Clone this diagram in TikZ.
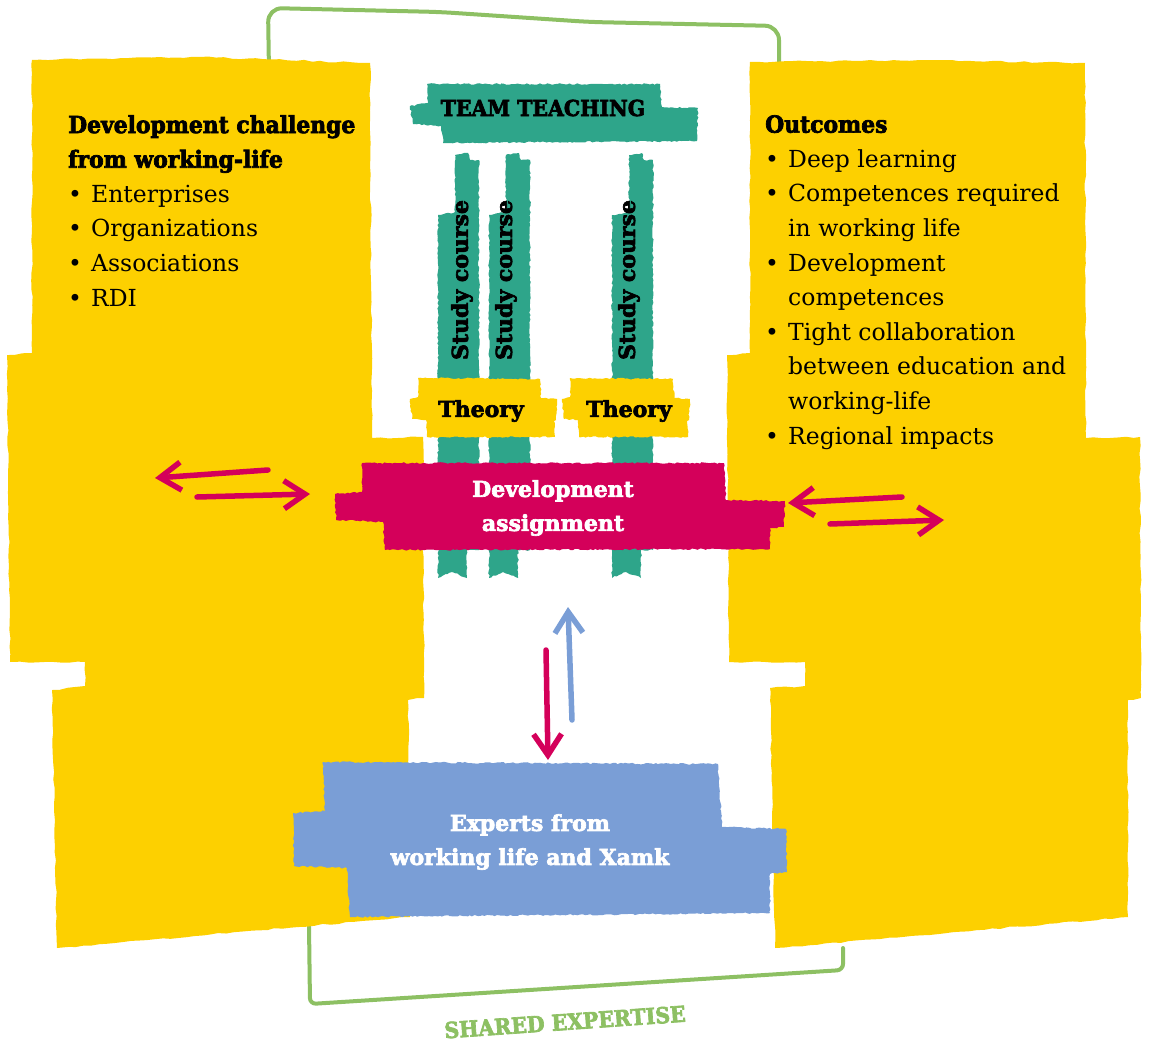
\documentclass[tikz,border=0pt]{standalone}
\usepackage{fontspec}
\setmainfont{DejaVu Serif}[BoldFeatures={FakeBold=3}]
\newfontfamily\narrowslab{DejaVu Serif}[FakeStretch=0.93, BoldFeatures={FakeBold=3}]
\usetikzlibrary{arrows.meta,positioning,decorations.pathmorphing}

\definecolor{paneyellow}{RGB}{253,208,0}
\definecolor{teamgreen}{RGB}{46,165,138}
\definecolor{taskpink}{RGB}{212,0,90}
\definecolor{expertblue}{RGB}{122,158,214}
\definecolor{framegreen}{RGB}{141,192,99}

\newcommand\bul{\makebox[23pt][l]{\textbullet}}
\newcommand\cont{\hspace*{23pt}}
\newcommand\headline[1]{{\narrowslab\bfseries #1}}

\tikzset{
  panel/.style={fill=paneyellow, decorate, decoration={random steps, segment length=8pt, amplitude=0.8pt}},
  brush/.style={decorate, decoration={random steps, segment length=2.5pt, amplitude=0.8pt}},
  paneltext/.style={anchor=north west, inner sep=0pt, align=left, font=\fontsize{23.5}{34.6}\selectfont},
  tag/.style={inner sep=0pt, align=center, font=\bfseries\fontsize{22}{34}\selectfont},
  narrowtag/.style={tag, font=\narrowslab\bfseries\fontsize{22}{34}\selectfont},
  coursetext/.style={tag, rotate=90},
  frameline/.style={draw=framegreen, line width=4pt, line cap=round, line join=round},
  xchg/.style={draw=taskpink, line width=5.5pt, line cap=round, line join=round,
    -{Straight Barb[length=21pt,width=28pt]}}
}

\begin{document}
\begin{tikzpicture}[x=1pt, y=-1pt]
  \useasboundingbox (0,0) rectangle (1149,1043);
  \pgfmathsetseed{7}

  % shared expertise frame
  \coordinate (frameTL) at (269,72);
  \coordinate (frameTR) at (779,62);
  \coordinate (frameBL) at (309,925);
  \coordinate (frameBR) at (843,948);
  \draw[frameline, rounded corners=14pt] (frameTL) -- (268,8) -- (440,12) -- (590,22) -- (779,26) -- (frameTR);
  \draw[frameline, rounded corners=6pt] (frameBL) -- (310,1004) -- (843,970) -- (frameBR);

  % yellow panels
  \fill[panel] (32,60) -- (200,57) -- (370,63) -- (372,438) -- (423,437) -- (424,698) -- (408,700)
    -- (410,917) -- (57,948) -- (52,690) -- (85,686) -- (85,662) -- (10,662) -- (7,355) -- (32,353) -- cycle;
  \fill[panel] (750,62) -- (920,60) -- (1085,63) -- (1086,438) -- (1140,437) -- (1141,698) -- (1128,700)
    -- (1128,917) -- (775,948) -- (770,688) -- (805,686) -- (805,662) -- (729,662) -- (727,355) -- (750,353) -- cycle;

  % study courses
  \foreach \x/\t [count=\i] in {438/24, 489/17, 612/17} {
    \fill[teamgreen, brush] (\x,215) -- (\x+17,212) -- (\x+17,155) -- (\x+30,153) -- (\x+32,160) -- (\x+41,160)
      -- (\x+41,550) -- (\x+29,550) -- (\x+29,578) -- (\x+14,572) -- (\x,578) -- cycle;
    \node[coursetext] (course\i) at (\x+\t,280) {Study course};
  }

  % theory
  \foreach \x/\w in {410/147, 562/128} {
    \fill[paneyellow, brush] (\x+8,378) -- (\x+\w-17,379) -- (\x+\w-16,398) -- (\x+\w,399) -- (\x+\w-1,420)
      -- (\x+\w-3,421) -- (\x+\w-2,437) -- (\x+17,437) -- (\x+16,420) -- (\x+2,419) -- (\x,399) -- (\x+8,397) -- cycle;
  }
  \node[tag] (theory1) at (481,411) {Theory};
  \node[tag] (theory2) at (629,411) {Theory};

  % team teaching
  \fill[teamgreen, brush] (427,84) -- (660,84) -- (662,107) -- (698,108) -- (697,141) -- (443,143)
    -- (441,126) -- (413,124) -- (410,106) -- (428,103) -- cycle;
  \node[narrowtag] (team) at (543,108) {TEAM TEACHING};

  % development assignment
  \fill[taskpink, brush] (362,463) -- (724,463) -- (726,500) -- (785,501) -- (784,527) -- (770,528)
    -- (770,549) -- (385,550) -- (383,522) -- (336,520) -- (335,494) -- (362,492) -- cycle;
  \node[tag, text=white] (task) at (553,508) {Development\\assignment};

  % experts
  \fill[expertblue, brush] (323,762) -- (718,764) -- (722,827) -- (786,829) -- (787,872) -- (770,874)
    -- (770,913) -- (350,917) -- (347,868) -- (294,866) -- (293,813) -- (325,811) -- cycle;
  \node[tag, text=white] (experts) at (530,842) {Experts from\\working life and Xamk};

  % panel texts
  \node[paneltext] (chal) at (68,115) {\headline{Development challenge}\\\headline{from working-life}\\
    \bul Enterprises\\\bul Organizations\\\bul Associations\\\bul RDI};
  \node[paneltext] (outc) at (765,115) {\headline{Outcomes}\\\bul Deep learning\\
    \bul Competences required\\\cont in working life\\\bul Development\\\cont competences\\
    \bul Tight collaboration\\\cont between education and\\\cont working-life\\\bul Regional impacts};

  \node[narrowtag, text=framegreen, rotate=4] (shared) at (565,1022) {SHARED EXPERTISE};

  % exchange arrows
  \coordinate (chalOut) at (268,470);
  \coordinate (chalTip) at (155,478);
  \coordinate (chalIn) at (197,497);
  \coordinate (taskL) at (310,494);
  \coordinate (outcOut) at (902,497);
  \coordinate (taskR) at (788,503);
  \coordinate (outcIn) at (830,524);
  \coordinate (outcTip) at (944,520);
  \coordinate (taskB) at (546,650);
  \coordinate (expertsT) at (548,760);
  \coordinate (expertsU) at (572,720);
  \coordinate (taskU) at (568,607);
  \draw[xchg] (chalOut) -- (chalTip);
  \draw[xchg] (chalIn) -- (taskL);
  \draw[xchg] (outcOut) -- (taskR);
  \draw[xchg] (outcIn) -- (outcTip);
  \draw[xchg] (taskB) -- (expertsT);
  \draw[xchg, draw=expertblue] (expertsU) -- (taskU);
\end{tikzpicture}
\end{document}
